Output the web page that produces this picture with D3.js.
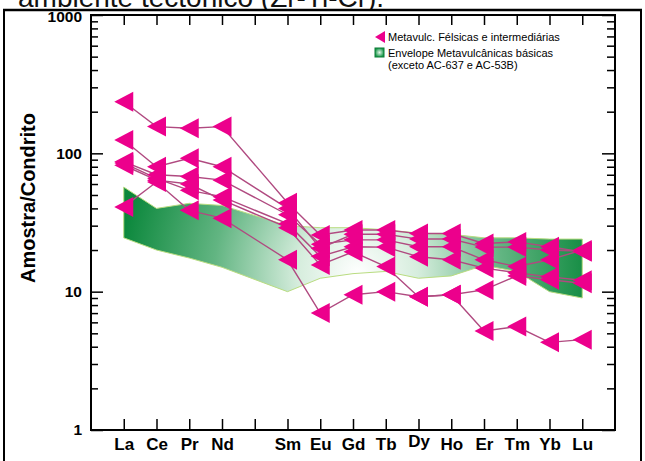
<!DOCTYPE html>
<html>
<head>
<meta charset="utf-8">
<script src="https://cdn.jsdelivr.net/npm/d3@7/dist/d3.min.js"></script>
<style>
body { margin: 0; background: #fff; }
text { font-family: Arial, "Liberation Sans", sans-serif; }
</style>
</head>
<body>
<div id="drawhere"></div>
<script>
// REE order, Pm gets a tick but no label / no data
var elements = ["La","Ce","Pr","Nd","Pm","Sm","Eu","Gd","Tb","Dy","Ho","Er","Tm","Yb","Lu"];
var tickLabels = ["La","Ce","Pr","Nd","","Sm","Eu","Gd","Tb","Dy","Ho","Er","Tm","Yb","Lu"];
var yMajor = [1, 10, 100, 1000];
var yMinor = [2,3,4,5,6,7,8,9,20,30,40,50,60,70,80,90,200,300,400,500,600,700,800,900];

// Metavulc. felsicas e intermediarias (sample / chondrite)
var sample1 = [236, 156, 152, 156, null, 44, 25.7, 27.9, 27.9, 26.3, 26.3, 22.3, 22.9, 21.1, 19.4];
var sample2 = [125, 80, 92, 80, null, 40, 20.6, 26, 26, 24, 24, 21, 21, 20, 19.6];
var sample3 = [87, 70, 68, 64, null, 36, 22, 23.7, 23.7, 21.1, 21.1, 17, 15.2, 17, 20];
var sample4 = [85, 66, 54, 48.6, null, 31, 18, 21.1, 21, 17.9, 17, 14.8, 13.7, 12.8, 12.1];
var sample5 = [82, 64, 60, 46, null, 29, 15.6, 19.4, 15.2, 9.2, 9.5, 10.3, 13, 12.2, 11.5];
var sample6 = [41, 62, 38.7, 34, null, 17, 7, 9.5, 10, 9.2, 9.5, 5.2, 5.6, 4.3, 4.5];
var samples = [sample1, sample2, sample3, sample4, sample5, sample6];

// envelope of the basic metavolcanics
var envelopeTop = [57, 40, 43.5, 42, null, 30, 29, 29, 28, 26.5, 26, 24.5, 24.5, 24, 24];
var envelopeBottom = [24.5, 20, 17.5, 15, null, 10, 12.5, 13.5, 14, 12.5, 13, 15.5, 14, 10, 9];

var width = 645, height = 461;

var svg = d3.select("#drawhere").append("svg")
    .attr("width", width)
    .attr("height", height);

var x = d3.scaleLinear().domain([0, 16]).range([91, 615]);
var y = d3.scaleLog().domain([1, 1000]).range([430, 15]);
var pos = elements.map(function(d, i) { return i + 1; });

var defs = svg.append("defs");

// title of the page above, only its lower part shows
defs.append("clipPath").attr("id", "titleClip")
    .append("rect").attr("x", 0).attr("y", 0).attr("width", width).attr("height", 10);
svg.append("text")
    .attr("clip-path", "url(#titleClip)")
    .attr("x", 18)
    .attr("y", 7)
    .attr("font-size", 28)
    .attr("fill", "#111")
    .text("ambiente tectônico (Zr-Ti-Cr).");

// outer frame
svg.append("line").attr("x1", 3).attr("x2", 642).attr("y1", 10).attr("y2", 10)
    .attr("stroke", "#000").attr("stroke-width", 2.5);
svg.append("line").attr("x1", 4).attr("x2", 4).attr("y1", 10).attr("y2", height)
    .attr("stroke", "#000").attr("stroke-width", 2);
svg.append("line").attr("x1", 641).attr("x2", 641).attr("y1", 10).attr("y2", height)
    .attr("stroke", "#000").attr("stroke-width", 2);

// gradients
var grad = defs.append("radialGradient")
    .attr("id", "envGrad")
    .attr("gradientUnits", "userSpaceOnUse")
    .attr("cx", 358).attr("cy", 274).attr("r", 240);
grad.append("stop").attr("offset", 0).attr("stop-color", "#ffffff");
grad.append("stop").attr("offset", 0.25).attr("stop-color", "#d6eddd");
grad.append("stop").attr("offset", 0.6).attr("stop-color", "#62b582");
grad.append("stop").attr("offset", 1).attr("stop-color", "#0a873b");

var swGrad = defs.append("radialGradient").attr("id", "swGrad");
swGrad.append("stop").attr("offset", 0).attr("stop-color", "#e6f5ea");
swGrad.append("stop").attr("offset", 1).attr("stop-color", "#1b9a4c");

// envelope area
var envData = pos.map(function(p, i) {
    return {x: p, top: envelopeTop[i], bottom: envelopeBottom[i]};
}).filter(function(d) { return d.top != null; });

var area = d3.area()
    .x(function(d) { return x(d.x); })
    .y0(function(d) { return y(d.bottom); })
    .y1(function(d) { return y(d.top); });

svg.append("path")
    .datum(envData)
    .attr("d", area)
    .attr("fill", "url(#envGrad)")
    .attr("stroke", "#b9dc80")
    .attr("stroke-width", 1);

// axes (ticks point inside the box)
var bottomAxis = d3.axisBottom(x)
    .tickValues(pos)
    .tickFormat(function(d) { return tickLabels[d - 1]; })
    .tickSize(-11).tickSizeOuter(0).tickPadding(8);
var gb = svg.append("g").attr("transform", "translate(0,430)").call(bottomAxis);
gb.selectAll("text").attr("font-size", 17).attr("font-weight", "bold").attr("fill", "#000")
    .attr("dy", function(d) { return tickLabels[d - 1] == "Dy" ? "0.55em" : "0.71em"; });

var topAxis = d3.axisTop(x).tickValues(pos).tickFormat("").tickSize(-10).tickSizeOuter(0);
svg.append("g").attr("transform", "translate(0,15)").call(topAxis);

var leftAxis = d3.axisLeft(y).tickValues(yMajor).tickFormat(d3.format("d"))
    .tickSize(-12).tickSizeOuter(0).tickPadding(9);
var gl = svg.append("g").attr("transform", "translate(91,0)").call(leftAxis);
gl.selectAll("text").attr("font-size", 15.5).attr("font-weight", "bold").attr("fill", "#000")
    .attr("dy", function(d) { return d == 1000 ? "0.42em" : "0.32em"; });

svg.append("g").attr("transform", "translate(91,0)")
    .call(d3.axisLeft(y).tickValues(yMinor).tickFormat("").tickSize(-7).tickSizeOuter(0));

svg.append("g").attr("transform", "translate(615,0)")
    .call(d3.axisRight(y).tickValues(yMajor).tickFormat("").tickSize(-13).tickSizeOuter(0));
svg.append("g").attr("transform", "translate(615,0)")
    .call(d3.axisRight(y).tickValues(yMinor).tickFormat("").tickSize(-8).tickSizeOuter(0));

svg.selectAll(".domain").remove();
svg.selectAll(".tick line").attr("stroke", "#000").attr("stroke-width", 1.5);

// plot box
svg.append("rect")
    .attr("x", 91).attr("y", 15)
    .attr("width", 524).attr("height", 415)
    .attr("fill", "none")
    .attr("stroke", "#000")
    .attr("stroke-width", 2);

// y title
svg.append("text")
    .attr("transform", "translate(35,198) rotate(-90)")
    .attr("text-anchor", "middle")
    .attr("font-size", 20)
    .attr("font-weight", "bold")
    .text("Amostra/Condrito");

// sample lines
var line = d3.line()
    .x(function(d) { return x(d.x); })
    .y(function(d) { return y(d.v); });

function toPoints(s) {
    return s.map(function(v, i) { return {x: pos[i], v: v}; })
        .filter(function(d) { return d.v != null; });
}

svg.append("g").selectAll("path")
    .data(samples)
    .enter().append("path")
    .attr("d", function(s) { return line(toPoints(s)); })
    .attr("fill", "none")
    .attr("stroke", "#b04a80")
    .attr("stroke-width", 1.4);

// triangle markers
var tri = "M-9.5,0L9.5,-10L9.5,10Z";
var allPts = [];
samples.forEach(function(s) { allPts = allPts.concat(toPoints(s)); });
svg.append("g").selectAll("path")
    .data(allPts)
    .enter().append("path")
    .attr("d", tri)
    .attr("transform", function(d) { return "translate(" + x(d.x) + "," + y(d.v) + ")"; })
    .attr("fill", "#ec008c");

// legend
var lg = svg.append("g");
lg.append("path").attr("d", "M-5,0L5,-6L5,6Z").attr("transform", "translate(380,37)").attr("fill", "#ec008c");
lg.append("rect").attr("x", 375).attr("y", 48).attr("width", 9).attr("height", 9)
    .attr("fill", "url(#swGrad)").attr("stroke", "#0b7a35").attr("stroke-width", 1);
lg.append("text").attr("x", 388).attr("y", 41).attr("font-size", 11)
    .text("Metavulc. Félsicas e intermediárias");
lg.append("text").attr("x", 388).attr("y", 57).attr("font-size", 11)
    .text("Envelope Metavulcânicas básicas");
lg.append("text").attr("x", 388).attr("y", 69).attr("font-size", 11)
    .text("(exceto AC-637 e AC-53B)");
</script>
</body>
</html>
